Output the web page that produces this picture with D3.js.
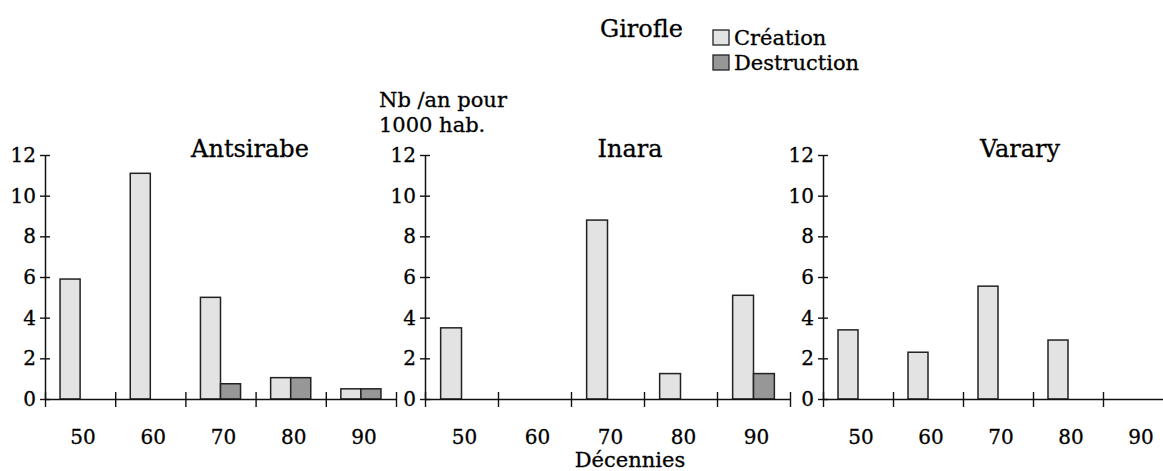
<!DOCTYPE html>
<html><head><meta charset="utf-8">
<script src="https://cdn.jsdelivr.net/npm/d3@7"></script>
<style>
body{margin:0;background:#fff;}
text{font-family:"DejaVu Serif",serif;fill:#000;stroke:#000;stroke-width:0.3px;}
</style></head>
<body><svg id="c" width="1163" height="471"></svg>
<script>
// ---- data ----
const decades = ["50","60","70","80","90"];
const regions = ["Antsirabe","Inara","Varary"];
const seriesNames = ["Création","Destruction"];
const antsirabeCreation = [5.9, 11.1, 5.0, 1.05, 0.5];
const antsirabeDestruction = [0, 0, 0.75, 1.05, 0.5];
const inaraCreation = [3.5, 0, 8.8, 1.25, 5.1];
const inaraDestruction = [0, 0, 0, 0, 1.25];
const vararyCreation = [3.4, 2.3, 5.55, 2.9, 0];
const vararyDestruction = [0, 0, 0, 0, 0];
const yTicks = [0, 2, 4, 6, 8, 10, 12];

const creation = [antsirabeCreation, inaraCreation, vararyCreation];
const destruction = [antsirabeDestruction, inaraDestruction, vararyDestruction];

// ---- layout ----
const panelX = [[45, 396], [425, 790], [823, 1173]];
const titleX = [250, 630, 1020];
const colors = {"Création":"#e3e3e3","Destruction":"#979797"};
const svg = d3.select("#c");
const y = d3.scaleLinear().domain([0, 12]).range([399, 155]);

regions.forEach((name, p) => {
  const [x0, x1] = panelX[p];
  const g = svg.append("g");
  const xb = d3.scaleBand().domain(decades).range([x0, x1]).padding(0);
  const xs = d3.scaleBand().domain(seriesNames).range([0, xb.bandwidth()]).paddingInner(0).paddingOuter(0.75);
  const xi = d3.scaleLinear().domain([0, decades.length]).range([x0, x1]);

  // bars
  const rows = [];
  decades.forEach((d, i) => {
    rows.push({d, s:"Création", v:creation[p][i]});
    rows.push({d, s:"Destruction", v:destruction[p][i]});
  });
  g.selectAll("rect.bar").data(rows.filter(r => r.v > 0)).join("rect")
    .attr("x", r => xb(r.d) + xs(r.s))
    .attr("width", xs.bandwidth())
    .attr("y", r => y(r.v))
    .attr("height", r => y(0) - y(r.v))
    .attr("fill", r => colors[r.s])
    .attr("stroke", "#222").attr("stroke-width", 1.5);

  // x axis with boundary ticks
  const xa = g.append("g").attr("transform", `translate(0,${y(0)})`)
    .call(d3.axisBottom(xi).tickValues(d3.range(decades.length + 1)).tickSize(8).tickSizeOuter(0).tickFormat(""));
  xa.selectAll(".tick line").attr("y1", -7).attr("y2", 8).attr("stroke", "#111").attr("stroke-width", 1.4);
  xa.select(".domain").attr("stroke", "#111").attr("stroke-width", 1.5);

  // x labels
  g.selectAll("text.xl").data(decades).join("text")
    .attr("x", d => xb(d) + xb.bandwidth() / 2 + 3)
    .attr("y", 444)
    .attr("text-anchor", "middle")
    .style("font-size", "20px")
    .text(d => d);

  // y axis
  const ya = g.append("g").attr("transform", `translate(${x0},0)`)
    .call(d3.axisLeft(y).tickValues(yTicks).tickSize(5).tickSizeOuter(0).tickPadding(4));
  ya.selectAll(".tick line").attr("x1", -5).attr("x2", 5).attr("stroke", "#111").attr("stroke-width", 1.4);
  ya.select(".domain").attr("stroke", "#111").attr("stroke-width", 1.5);
  ya.selectAll(".tick text").style("font-size", "20px").style("font-family", "DejaVu Serif")
    .attr("fill", "#000").attr("stroke", "#000").attr("stroke-width", 0.3);

  // title
  g.append("text").attr("x", titleX[p]).attr("y", 157).attr("text-anchor", "middle")
    .style("font-size", "24px").text(name);
});

// y-axis label
svg.append("text").attr("x", 379).attr("y", 107).style("font-size", "21px").text("Nb /an pour");
svg.append("text").attr("x", 379).attr("y", 132).style("font-size", "21px").text("1000 hab.");

// x-axis label
svg.append("text").attr("x", 630).attr("y", 467).attr("text-anchor", "middle").style("font-size", "21px").text("Décennies");

// heading + legend
svg.append("text").attr("x", 600).attr("y", 37).style("font-size", "24px").text("Girofle");
const lg = svg.selectAll("g.leg").data(seriesNames).join("g")
  .attr("transform", (d, i) => `translate(713,${30 + i * 25})`);
lg.append("rect").attr("width", 16).attr("height", 15)
  .attr("fill", d => colors[d]).attr("stroke", "#222").attr("stroke-width", 1.3);
lg.append("text").attr("x", 21).attr("y", 15).style("font-size", "21px").text(d => d);
</script></body></html>
